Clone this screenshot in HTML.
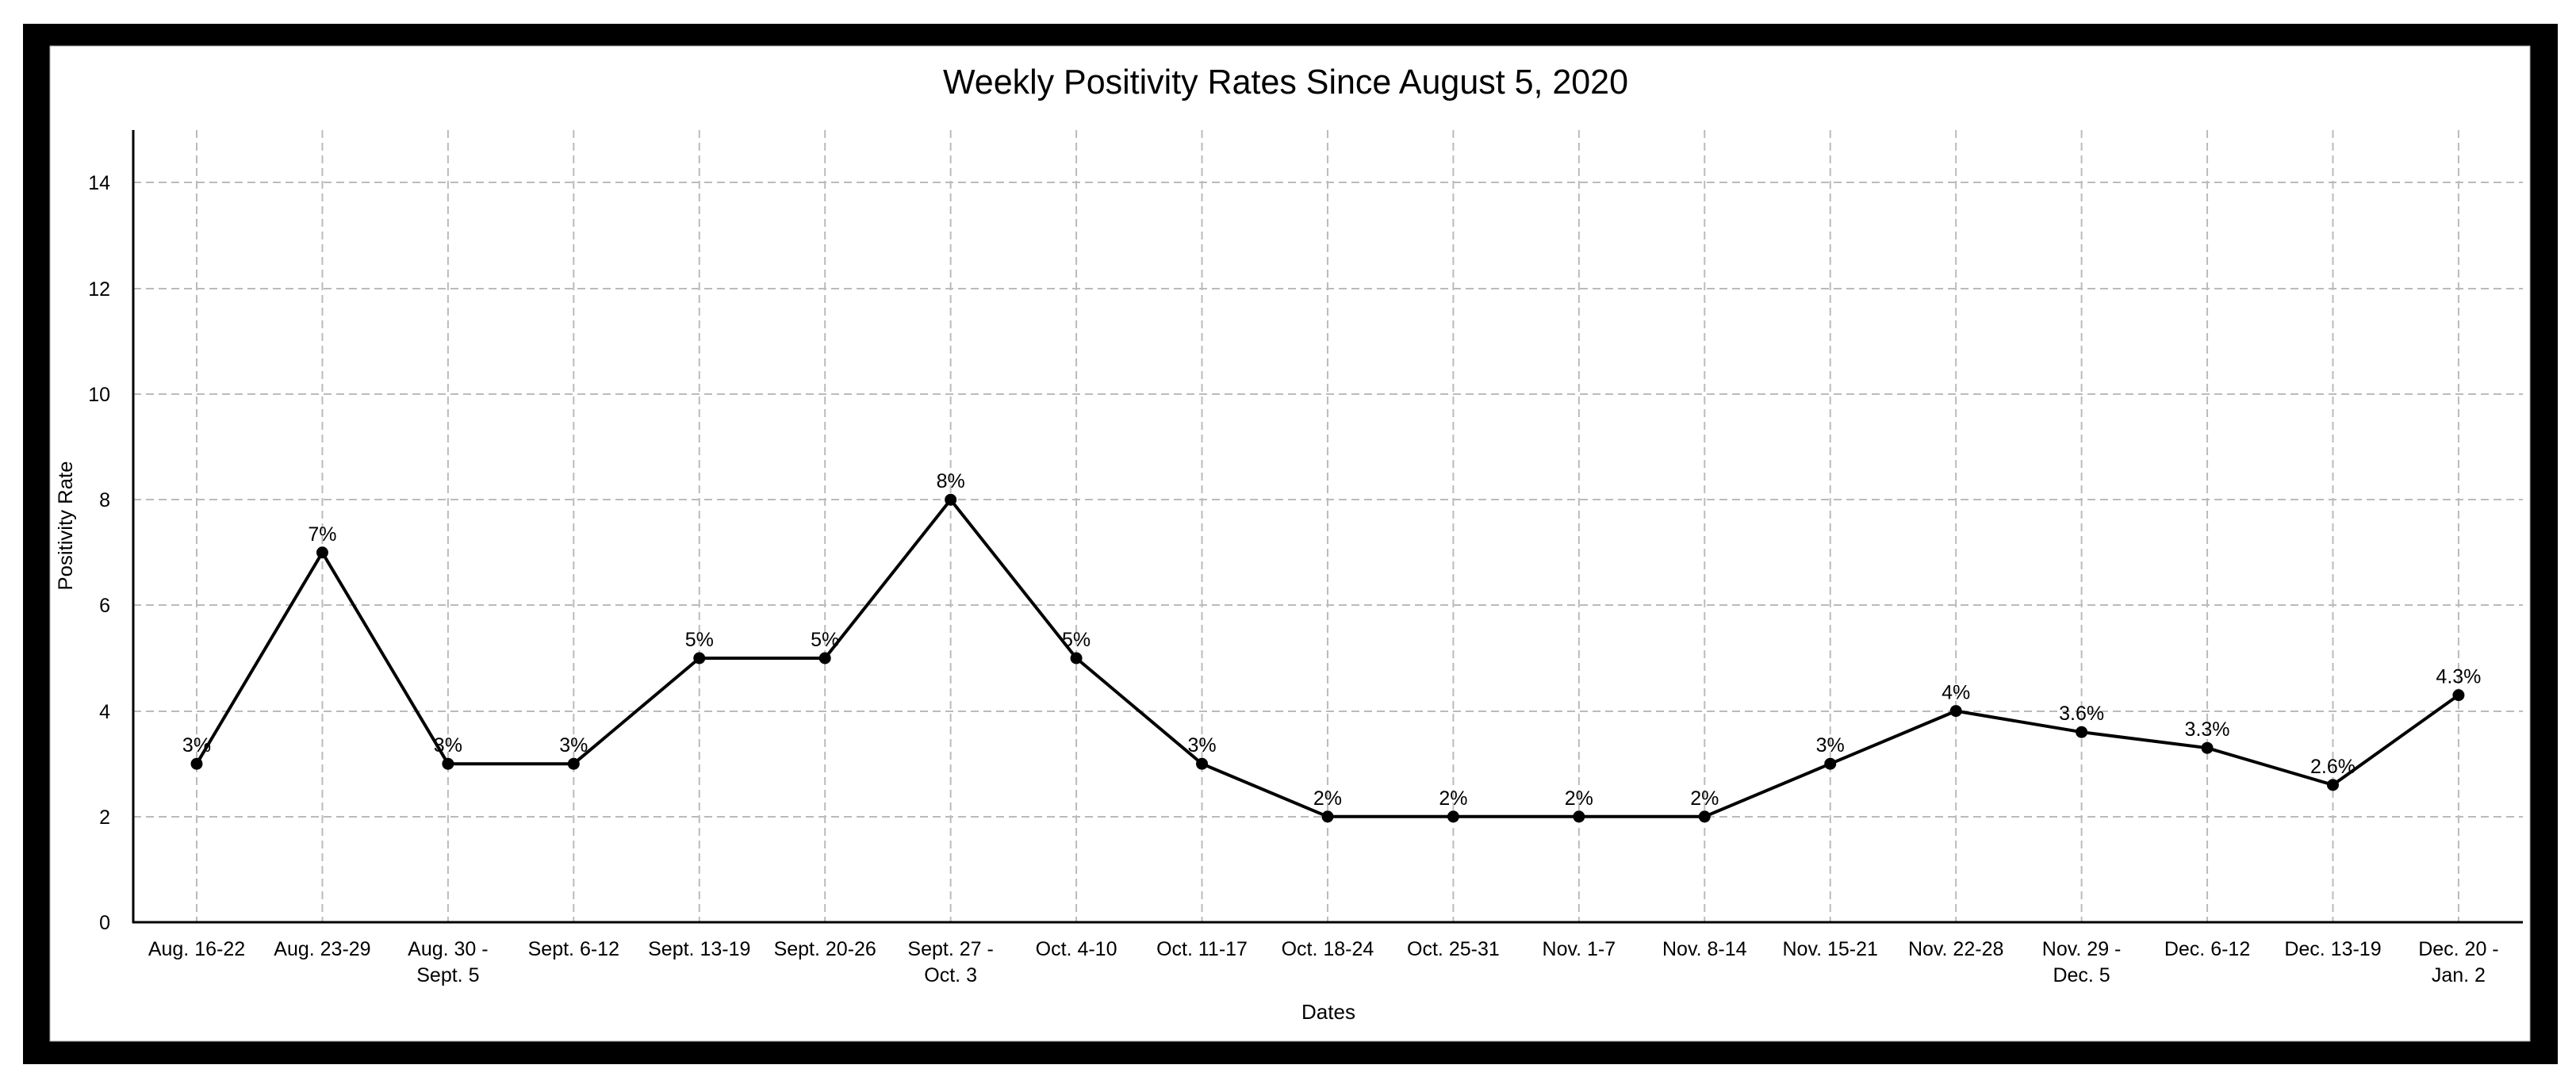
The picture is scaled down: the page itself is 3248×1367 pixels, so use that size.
<!DOCTYPE html>
<html><head><meta charset="utf-8"><style>
html,body{margin:0;padding:0;background:#fff;}
svg{display:block;}
text{font-family:"Liberation Sans",sans-serif;fill:#000;}
</style></head><body>
<svg width="3248" height="1367" viewBox="0 0 3248 1367" xmlns="http://www.w3.org/2000/svg">
<rect x="0" y="0" width="3248" height="1367" fill="#fff"/>
<rect x="29" y="30" width="3196" height="1312" fill="#000"/>
<rect x="63" y="58" width="3127" height="1255" fill="#fff" stroke="#aaa" stroke-width="1"/>
<text x="1621" y="118" font-size="44" text-anchor="middle" textLength="864" lengthAdjust="spacingAndGlyphs">Weekly Positivity Rates Since August 5, 2020</text>
<g stroke="#bbb" stroke-width="2" stroke-dasharray="10,6" fill="none">
<line x1="168" y1="230" x2="3181" y2="230"/>
<line x1="168" y1="364" x2="3181" y2="364"/>
<line x1="168" y1="497" x2="3181" y2="497"/>
<line x1="168" y1="630" x2="3181" y2="630"/>
<line x1="168" y1="763" x2="3181" y2="763"/>
<line x1="168" y1="897" x2="3181" y2="897"/>
<line x1="168" y1="1030" x2="3181" y2="1030"/>
</g>
<g id="vg" stroke="#bbb" stroke-width="2" stroke-dasharray="10,6" fill="none"></g>
<line x1="168" y1="164" x2="168" y2="1164" stroke="#000" stroke-width="3"/>
<line x1="167" y1="1163" x2="3181" y2="1163" stroke="#000" stroke-width="3"/>
<g font-size="25" text-anchor="end">
<text x="139" y="239">14</text>
<text x="139" y="373">12</text>
<text x="139" y="506">10</text>
<text x="139" y="639">8</text>
<text x="139" y="772">6</text>
<text x="139" y="906">4</text>
<text x="139" y="1039">2</text>
<text x="139" y="1172">0</text>
</g>
<text transform="translate(91,663) rotate(-90)" font-size="25" text-anchor="middle" textLength="163" lengthAdjust="spacingAndGlyphs">Positivity Rate</text>
<text x="1675" y="1285" font-size="26" text-anchor="middle">Dates</text>
<g id="xl" font-size="25" text-anchor="middle"></g>
<g id="series"></g>
</svg>
<script>
var ns="http://www.w3.org/2000/svg";
var labels=[["Aug. 16-22"],["Aug. 23-29"],["Aug. 30 -","Sept. 5"],["Sept. 6-12"],["Sept. 13-19"],["Sept. 20-26"],["Sept. 27 -","Oct. 3"],["Oct. 4-10"],["Oct. 11-17"],["Oct. 18-24"],["Oct. 25-31"],["Nov. 1-7"],["Nov. 8-14"],["Nov. 15-21"],["Nov. 22-28"],["Nov. 29 -","Dec. 5"],["Dec. 6-12"],["Dec. 13-19"],["Dec. 20 -","Jan. 2"]];
var vals=[3,7,3,3,5,5,8,5,3,2,2,2,2,3,4,3.6,3.3,2.6,4.3];
var tl=["3%","7%","3%","3%","5%","5%","8%","5%","3%","2%","2%","2%","2%","3%","4%","3.6%","3.3%","2.6%","4.3%"];
function X(i){return 248+158.44*i;}
function Y(v){return 1163-66.6*v;}
var vg=document.getElementById("vg"),xl=document.getElementById("xl"),se=document.getElementById("series");
var pts=[];
for(var i=0;i<19;i++){
 var l=document.createElementNS(ns,"line");l.setAttribute("x1",X(i));l.setAttribute("x2",X(i));l.setAttribute("y1",164);l.setAttribute("y2",1162);vg.appendChild(l);
 for(var j=0;j<labels[i].length;j++){var t=document.createElementNS(ns,"text");t.setAttribute("x",X(i));t.setAttribute("y",1205+j*33);t.textContent=labels[i][j];xl.appendChild(t);}
 pts.push(X(i).toFixed(1)+","+Y(vals[i]).toFixed(1));
}
var p=document.createElementNS(ns,"polyline");p.setAttribute("points",pts.join(" "));p.setAttribute("fill","none");p.setAttribute("stroke","#000");p.setAttribute("stroke-width","4");p.setAttribute("stroke-linejoin","miter");se.appendChild(p);
for(var i=0;i<19;i++){
 var c=document.createElementNS(ns,"circle");c.setAttribute("cx",X(i));c.setAttribute("cy",Y(vals[i]));c.setAttribute("r",7.5);c.setAttribute("fill","#000");se.appendChild(c);
 var t=document.createElementNS(ns,"text");t.setAttribute("x",X(i));t.setAttribute("y",Y(vals[i])-15);t.setAttribute("font-size","25");t.setAttribute("text-anchor","middle");t.textContent=tl[i];se.appendChild(t);
}
</script>
</body></html>
